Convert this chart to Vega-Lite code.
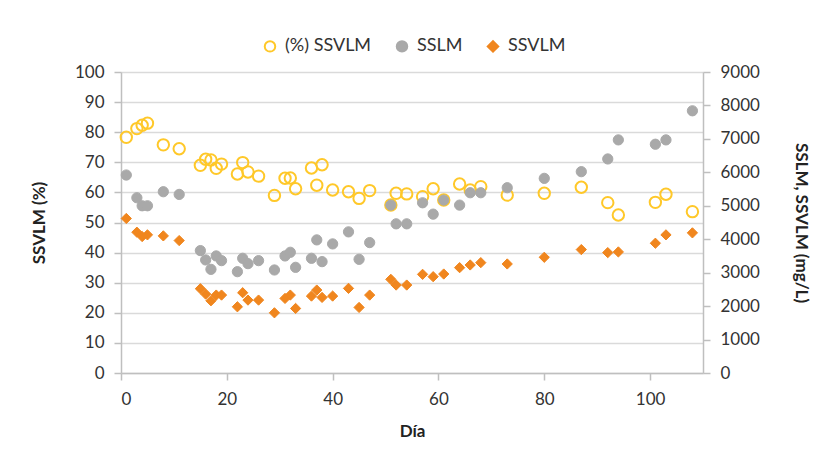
{
 "$schema": "https://vega.github.io/schema/vega-lite/v6.json",
 "width": 582,
 "height": 301,
 "autosize": {"type": "none"},
 "padding": {"left": 121, "top": 72, "right": 123, "bottom": 79},
 "background": "white",
 "config": {
  "font": "Lato",
  "view": {"stroke": null},
  "axis": {"labelFont": "Lato", "labelFontSize": 17, "labelColor": "#333333", "titleFont": "Lato", "titleFontSize": 17, "titleFontWeight": "bold", "titleColor": "#222222", "domainColor": "#BFBFBF", "domainWidth": 1.5, "tickColor": "#BFBFBF", "tickWidth": 1.5, "tickSize": 7, "gridColor": "#DADADA", "gridWidth": 1.5},
  "legend": {"orient": "none", "legendX": 140, "legendY": -35, "direction": "horizontal", "labelFont": "Lato", "labelFontSize": 18, "labelColor": "#333333", "symbolSize": 110, "symbolStrokeWidth": 2, "columnPadding": 20, "labelOffset": 6}
 },
 "datasets": {
  "pts": [
   {"d":1,"s":"(%) SSVLM","v":78.3},{"d":1,"s":"SSLM","v":5920},{"d":1,"s":"SSVLM","v":4620},
   {"d":3,"s":"(%) SSVLM","v":81.2},{"d":3,"s":"SSLM","v":5240},{"d":3,"s":"SSVLM","v":4210},
   {"d":4,"s":"(%) SSVLM","v":82.3},{"d":4,"s":"SSLM","v":5000},{"d":4,"s":"SSVLM","v":4080},
   {"d":5,"s":"(%) SSVLM","v":83.0},{"d":5,"s":"SSLM","v":5000},{"d":5,"s":"SSVLM","v":4130},
   {"d":8,"s":"(%) SSVLM","v":75.8},{"d":8,"s":"SSLM","v":5420},{"d":8,"s":"SSVLM","v":4100},
   {"d":11,"s":"(%) SSVLM","v":74.5},{"d":11,"s":"SSLM","v":5340},{"d":11,"s":"SSVLM","v":3960},
   {"d":15,"s":"(%) SSVLM","v":69.0},{"d":15,"s":"SSLM","v":3660},{"d":15,"s":"SSVLM","v":2520},
   {"d":16,"s":"(%) SSVLM","v":71.0},{"d":16,"s":"SSLM","v":3380},{"d":16,"s":"SSVLM","v":2360},
   {"d":17,"s":"(%) SSVLM","v":70.8},{"d":17,"s":"SSLM","v":3100},{"d":17,"s":"SSVLM","v":2160},
   {"d":18,"s":"(%) SSVLM","v":68.0},{"d":18,"s":"SSLM","v":3500},{"d":18,"s":"SSVLM","v":2330},
   {"d":19,"s":"(%) SSVLM","v":69.4},{"d":19,"s":"SSLM","v":3360},{"d":19,"s":"SSVLM","v":2330},
   {"d":22,"s":"(%) SSVLM","v":66.1},{"d":22,"s":"SSLM","v":3030},{"d":22,"s":"SSVLM","v":1980},
   {"d":23,"s":"(%) SSVLM","v":69.9},{"d":23,"s":"SSLM","v":3430},{"d":23,"s":"SSVLM","v":2400},
   {"d":24,"s":"(%) SSVLM","v":66.8},{"d":24,"s":"SSLM","v":3270},{"d":24,"s":"SSVLM","v":2180},
   {"d":26,"s":"(%) SSVLM","v":65.4},{"d":26,"s":"SSLM","v":3360},{"d":26,"s":"SSVLM","v":2180},
   {"d":29,"s":"(%) SSVLM","v":59.0},{"d":29,"s":"SSLM","v":3080},{"d":29,"s":"SSVLM","v":1800},
   {"d":31,"s":"(%) SSVLM","v":64.7},{"d":31,"s":"SSLM","v":3500},{"d":31,"s":"SSVLM","v":2230},
   {"d":32,"s":"(%) SSVLM","v":64.8},{"d":32,"s":"SSLM","v":3610},{"d":32,"s":"SSVLM","v":2330},
   {"d":33,"s":"(%) SSVLM","v":61.2},{"d":33,"s":"SSLM","v":3160},{"d":33,"s":"SSVLM","v":1930},
   {"d":36,"s":"(%) SSVLM","v":68.1},{"d":36,"s":"SSLM","v":3430},{"d":36,"s":"SSVLM","v":2300},
   {"d":37,"s":"(%) SSVLM","v":62.4},{"d":37,"s":"SSLM","v":3980},{"d":37,"s":"SSVLM","v":2480},
   {"d":38,"s":"(%) SSVLM","v":69.2},{"d":38,"s":"SSLM","v":3330},{"d":38,"s":"SSVLM","v":2260},
   {"d":40,"s":"(%) SSVLM","v":60.8},{"d":40,"s":"SSLM","v":3860},{"d":40,"s":"SSVLM","v":2300},
   {"d":43,"s":"(%) SSVLM","v":60.2},{"d":43,"s":"SSLM","v":4220},{"d":43,"s":"SSVLM","v":2530},
   {"d":45,"s":"(%) SSVLM","v":58.0},{"d":45,"s":"SSLM","v":3400},{"d":45,"s":"SSVLM","v":1960},
   {"d":47,"s":"(%) SSVLM","v":60.6},{"d":47,"s":"SSLM","v":3900},{"d":47,"s":"SSVLM","v":2330},
   {"d":51,"s":"(%) SSVLM","v":55.8},{"d":51,"s":"SSLM","v":5020},{"d":51,"s":"SSVLM","v":2800},
   {"d":52,"s":"(%) SSVLM","v":59.7},{"d":52,"s":"SSLM","v":4460},{"d":52,"s":"SSVLM","v":2630},
   {"d":54,"s":"(%) SSVLM","v":59.5},{"d":54,"s":"SSLM","v":4460},{"d":54,"s":"SSVLM","v":2630},
   {"d":57,"s":"(%) SSVLM","v":58.6},{"d":57,"s":"SSLM","v":5090},{"d":57,"s":"SSVLM","v":2950},
   {"d":59,"s":"(%) SSVLM","v":61.2},{"d":59,"s":"SSLM","v":4750},{"d":59,"s":"SSVLM","v":2880},
   {"d":61,"s":"(%) SSVLM","v":57.5},{"d":61,"s":"SSLM","v":5170},{"d":61,"s":"SSVLM","v":2960},
   {"d":64,"s":"(%) SSVLM","v":62.8},{"d":64,"s":"SSLM","v":5020},{"d":64,"s":"SSVLM","v":3150},
   {"d":66,"s":"(%) SSVLM","v":60.8},{"d":66,"s":"SSLM","v":5390},{"d":66,"s":"SSVLM","v":3230},
   {"d":68,"s":"(%) SSVLM","v":61.9},{"d":68,"s":"SSLM","v":5390},{"d":68,"s":"SSVLM","v":3300},
   {"d":73,"s":"(%) SSVLM","v":59.1},{"d":73,"s":"SSLM","v":5540},{"d":73,"s":"SSVLM","v":3260},
   {"d":80,"s":"(%) SSVLM","v":59.7},{"d":80,"s":"SSLM","v":5820},{"d":80,"s":"SSVLM","v":3460},
   {"d":87,"s":"(%) SSVLM","v":61.7},{"d":87,"s":"SSLM","v":6020},{"d":87,"s":"SSVLM","v":3690},
   {"d":92,"s":"(%) SSVLM","v":56.6},{"d":92,"s":"SSLM","v":6400},{"d":92,"s":"SSVLM","v":3600},
   {"d":94,"s":"(%) SSVLM","v":52.5},{"d":94,"s":"SSLM","v":6970},{"d":94,"s":"SSVLM","v":3620},
   {"d":101,"s":"(%) SSVLM","v":56.7},{"d":101,"s":"SSLM","v":6840},{"d":101,"s":"SSVLM","v":3880},
   {"d":103,"s":"(%) SSVLM","v":59.4},{"d":103,"s":"SSLM","v":6970},{"d":103,"s":"SSVLM","v":4130},
   {"d":108,"s":"(%) SSVLM","v":53.6},{"d":108,"s":"SSLM","v":7840},{"d":108,"s":"SSVLM","v":4190}
  ]
 },
 "data": {"name": "pts"},
 "encoding": {
  "x": {"field": "d", "type": "quantitative", "scale": {"domain": [0, 110], "nice": false}, "axis": {"values": [0, 20, 40, 60, 80, 100], "title": "Día", "grid": false, "labelPadding": 11, "titlePadding": 16}}
 },
 "layer": [
  {
   "transform": [{"filter": "datum.s === '(%) SSVLM'"}],
   "mark": {"type": "point", "size": 130, "strokeWidth": 2, "opacity": 1},
   "encoding": {
    "y": {"field": "v", "type": "quantitative", "scale": {"domain": [0, 100], "nice": false}, "axis": {"orient": "left", "values": [0,10,20,30,40,50,60,70,80,90,100], "title": "SSVLM (%)", "grid": true, "labelPadding": 10, "titlePadding": 26}},
    "shape": {"field": "s", "type": "nominal", "scale": {"domain": ["(%) SSVLM", "SSLM", "SSVLM"], "range": ["circle", "circle", "diamond"]}, "legend": {"title": null}},
    "fill": {"field": "s", "type": "nominal", "scale": {"domain": ["(%) SSVLM", "SSLM", "SSVLM"], "range": ["rgba(255,255,255,0)", "#A9A9A9", "#F0861E"]}, "legend": {"title": null}},
    "stroke": {"field": "s", "type": "nominal", "scale": {"domain": ["(%) SSVLM", "SSLM", "SSVLM"], "range": ["#FFC829", "#A9A9A9", "#F0861E"]}, "legend": {"title": null}}
   }
  },
  {
   "transform": [{"filter": "datum.s !== '(%) SSVLM'"}],
   "mark": {"type": "point", "size": 105, "strokeWidth": 1, "opacity": 1},
   "encoding": {
    "y": {"field": "v", "type": "quantitative", "scale": {"domain": [0, 9000], "nice": false}, "axis": {"orient": "right", "values": [0,1000,2000,3000,4000,5000,6000,7000,8000,9000], "format": "d", "title": "SSLM, SSVLM (mg/L)", "grid": false, "labelPadding": 10, "titlePadding": 32}},
    "shape": {"field": "s", "type": "nominal", "legend": {"title": null}},
    "fill": {"field": "s", "type": "nominal", "legend": {"title": null}},
    "stroke": {"field": "s", "type": "nominal", "legend": {"title": null}}
   }
  }
 ],
 "resolve": {"scale": {"y": "independent"}}
}
